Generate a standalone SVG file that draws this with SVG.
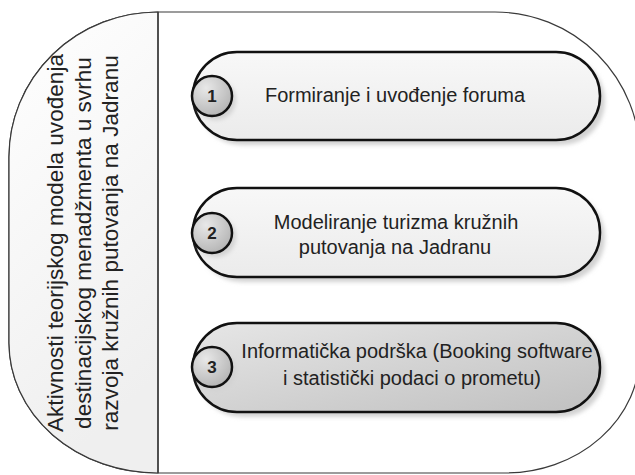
<svg xmlns="http://www.w3.org/2000/svg" width="635" height="475" viewBox="0 0 635 475">
<style>
.outer{fill:#ffffff;stroke:#3a3a3a;stroke-width:1.2}
.divider{stroke:#3a3a3a;stroke-width:1.4;fill:none}
.pill{stroke:#111;stroke-width:2.5}
.shadow{fill:#d2d2d2;filter:url(#blur)}
.circ{fill:url(#gCirc);stroke:#111;stroke-width:2.5}
.num{font-family:"Liberation Sans",Arial,sans-serif;font-size:17px;font-weight:bold;fill:#222;text-anchor:middle}
.lbl{font-family:"Liberation Sans",Arial,sans-serif;font-size:20px;fill:#222;text-anchor:middle}
.side{font-family:"Liberation Sans",Arial,sans-serif;font-size:22.6px;fill:#222;text-anchor:middle}
</style>
<defs>
<filter id="blur" x="-10%" y="-20%" width="120%" height="140%"><feGaussianBlur stdDeviation="2"/></filter>
<linearGradient id="gLeft" x1="0" y1="0" x2="0.3" y2="1"><stop offset="0" stop-color="#ffffff"/><stop offset="1" stop-color="#efefef"/></linearGradient>
<linearGradient id="gLight" x1="0" y1="0" x2="0" y2="1"><stop offset="0" stop-color="#f8f8f8"/><stop offset="1" stop-color="#ebebeb"/></linearGradient>
<linearGradient id="gDark" x1="0" y1="0" x2="1" y2="1"><stop offset="0" stop-color="#e6e6e6"/><stop offset="1" stop-color="#c0c0c0"/></linearGradient>
<radialGradient id="gCirc" cx="0.35" cy="0.3" r="0.75"><stop offset="0" stop-color="#e8e8e8"/><stop offset="1" stop-color="#b4b4b4"/></radialGradient>
</defs>
<g id="container">
<path class="outer" d="M158,12 H495 A145,145 0 0 1 640,157 V353 A135,120 0 0 1 505,473 H158 A149,130 0 0 1 9,343 V157 A149,145 0 0 1 158,12 Z"/>
<path fill="url(#gLeft)" stroke="#3a3a3a" stroke-width="1.2" d="M158,12 V473 A149,130 0 0 1 9,343 V157 A149,145 0 0 1 158,12 Z"/>
<line class="divider" x1="158" y1="12" x2="158" y2="473"/>
<text class="side" transform="translate(63,243) rotate(-90)">Aktivnosti teorijskog modela uvođenja</text>
<text class="side" transform="translate(91,243) rotate(-90)">destinacijskog menadžmenta u svrhu</text>
<text class="side" transform="translate(118,243) rotate(-90)">razvoja kružnih putovanja na Jadranu</text>
</g>
<g id="connectors"></g>
<g id="node1">
<rect class="shadow" x="198" y="57" width="407" height="88" rx="44"/>
<rect class="pill" fill="url(#gLight)" x="193" y="52" width="407" height="88" rx="44"/>
<circle class="shadow" cx="216" cy="100" r="20"/>
<circle class="circ" cx="212" cy="96" r="20"/>
<text class="num" x="212" y="102">1</text>
<text class="lbl" x="395" y="102">Formiranje i uvođenje foruma</text>
</g>
<g id="node2">
<rect class="shadow" x="198" y="193" width="407" height="89" rx="44"/>
<rect class="pill" fill="url(#gLight)" x="193" y="188" width="407" height="89" rx="44"/>
<circle class="shadow" cx="216" cy="237" r="20"/>
<circle class="circ" cx="212" cy="233" r="20"/>
<text class="num" x="212" y="239">2</text>
<text class="lbl" x="396" y="229">Modeliranje turizma kružnih</text>
<text class="lbl" x="395" y="254">putovanja na Jadranu</text>
</g>
<g id="node3">
<rect class="shadow" x="198" y="328" width="407" height="89" rx="44"/>
<rect class="pill" fill="url(#gDark)" x="193" y="323" width="407" height="89" rx="44"/>
<circle class="shadow" cx="216" cy="371" r="20"/>
<circle class="circ" cx="212" cy="367" r="20"/>
<text class="num" x="212" y="373">3</text>
<text class="lbl" x="417" y="358">Informatička podrška (Booking software</text>
<text class="lbl" x="412" y="385">i statistički podaci o prometu)</text>
</g>
</svg>
